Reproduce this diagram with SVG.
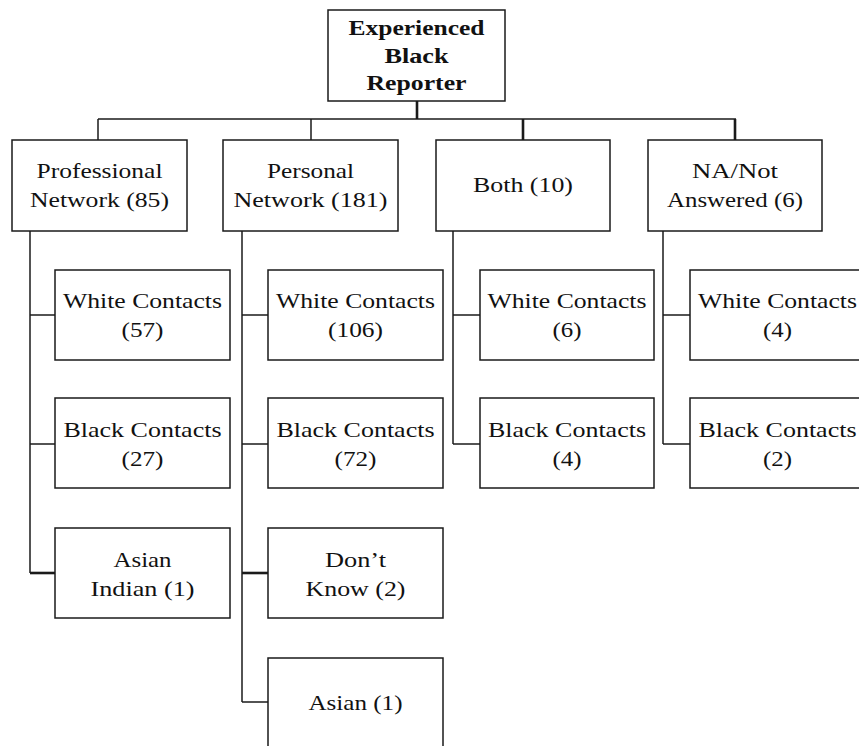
<svg xmlns="http://www.w3.org/2000/svg" width="859" height="746" viewBox="0 0 859 746">
  <style>
    .box { fill: #ffffff; stroke: #1a1a1a; stroke-width: 1.5; }
    .lbl { font-family: "Liberation Serif", "Times New Roman", serif; font-size: 22px; fill: #111111; text-anchor: middle; }
    .bold { font-weight: bold; }
    .wire { fill: none; stroke: #1a1a1a; stroke-width: 1.5; }
    .heavy { stroke-width: 2.6; }
  </style>
  <rect width="859" height="746" fill="#ffffff"/>

  <g id="connectors">
    <!-- top level -->
    <line class="wire heavy" x1="417" y1="101" x2="417" y2="119"/>
    <line class="wire" x1="98" y1="119" x2="736" y2="119"/>
    <line class="wire" x1="98" y1="119" x2="98" y2="140"/>
    <line class="wire" x1="311" y1="119" x2="311" y2="140"/>
    <line class="wire heavy" x1="523" y1="119" x2="523" y2="140"/>
    <line class="wire heavy" x1="735" y1="119" x2="735" y2="140"/>
    <!-- professional network branch -->
    <line class="wire" x1="30" y1="231" x2="30" y2="573"/>
    <line class="wire" x1="30" y1="315" x2="55" y2="315"/>
    <line class="wire" x1="30" y1="444" x2="55" y2="444"/>
    <line class="wire heavy" x1="30" y1="573" x2="55" y2="573"/>
    <!-- personal network branch -->
    <line class="wire" x1="242" y1="231" x2="242" y2="702"/>
    <line class="wire" x1="242" y1="315" x2="268" y2="315"/>
    <line class="wire" x1="242" y1="444" x2="268" y2="444"/>
    <line class="wire heavy" x1="242" y1="573" x2="268" y2="573"/>
    <line class="wire" x1="242" y1="702" x2="268" y2="702"/>
    <!-- both branch -->
    <line class="wire" x1="453" y1="231" x2="453" y2="444"/>
    <line class="wire" x1="453" y1="315" x2="480" y2="315"/>
    <line class="wire" x1="453" y1="444" x2="480" y2="444"/>
    <!-- not answered branch -->
    <line class="wire" x1="663" y1="231" x2="663" y2="444"/>
    <line class="wire" x1="663" y1="315" x2="690" y2="315"/>
    <line class="wire" x1="663" y1="444" x2="690" y2="444"/>
  </g>

  <g id="root">
    <rect class="box" x="328" y="10" width="177" height="91"/>
    <text class="lbl bold" x="416.5" y="35" textLength="136" lengthAdjust="spacingAndGlyphs">Experienced</text>
    <text class="lbl bold" x="416.5" y="63" textLength="64" lengthAdjust="spacingAndGlyphs">Black</text>
    <text class="lbl bold" x="416.5" y="90" textLength="100" lengthAdjust="spacingAndGlyphs">Reporter</text>
  </g>

  <g id="professional">
    <rect class="box" x="12" y="140" width="175" height="91"/>
    <text class="lbl" x="99.5" y="178" textLength="126" lengthAdjust="spacingAndGlyphs">Professional</text>
    <text class="lbl" x="99.5" y="207" textLength="139" lengthAdjust="spacingAndGlyphs">Network (85)</text>
  </g>
  <g id="personal">
    <rect class="box" x="223" y="140" width="175" height="91"/>
    <text class="lbl" x="310.5" y="178" textLength="87" lengthAdjust="spacingAndGlyphs">Personal</text>
    <text class="lbl" x="310.5" y="207" textLength="154" lengthAdjust="spacingAndGlyphs">Network (181)</text>
  </g>
  <g id="both">
    <rect class="box" x="436" y="140" width="174" height="91"/>
    <text class="lbl" x="523" y="192" textLength="100" lengthAdjust="spacingAndGlyphs">Both (10)</text>
  </g>
  <g id="not-answered">
    <rect class="box" x="648" y="140" width="174" height="91"/>
    <text class="lbl" x="735" y="178" textLength="86" lengthAdjust="spacingAndGlyphs">NA/Not</text>
    <text class="lbl" x="735" y="207" textLength="136" lengthAdjust="spacingAndGlyphs">Answered (6)</text>
  </g>

  <!-- professional network children -->
  <g id="prof-white">
    <rect class="box" x="55" y="270" width="175" height="90"/>
    <text class="lbl" x="142.5" y="308" textLength="159" lengthAdjust="spacingAndGlyphs">White Contacts</text>
    <text class="lbl" x="142.5" y="337" textLength="42" lengthAdjust="spacingAndGlyphs">(57)</text>
  </g>
  <g id="prof-black">
    <rect class="box" x="55" y="398" width="175" height="90"/>
    <text class="lbl" x="142.5" y="437" textLength="158" lengthAdjust="spacingAndGlyphs">Black Contacts</text>
    <text class="lbl" x="142.5" y="466" textLength="42" lengthAdjust="spacingAndGlyphs">(27)</text>
  </g>
  <g id="prof-asian-indian">
    <rect class="box" x="55" y="528" width="175" height="90"/>
    <text class="lbl" x="142.5" y="567" textLength="58" lengthAdjust="spacingAndGlyphs">Asian</text>
    <text class="lbl" x="142.5" y="596" textLength="104" lengthAdjust="spacingAndGlyphs">Indian (1)</text>
  </g>

  <!-- personal network children -->
  <g id="pers-white">
    <rect class="box" x="268" y="270" width="175" height="90"/>
    <text class="lbl" x="355.5" y="308" textLength="159" lengthAdjust="spacingAndGlyphs">White Contacts</text>
    <text class="lbl" x="355.5" y="337" textLength="55" lengthAdjust="spacingAndGlyphs">(106)</text>
  </g>
  <g id="pers-black">
    <rect class="box" x="268" y="398" width="175" height="90"/>
    <text class="lbl" x="355.5" y="437" textLength="158" lengthAdjust="spacingAndGlyphs">Black Contacts</text>
    <text class="lbl" x="355.5" y="466" textLength="42" lengthAdjust="spacingAndGlyphs">(72)</text>
  </g>
  <g id="pers-dont-know">
    <rect class="box" x="268" y="528" width="175" height="90"/>
    <text class="lbl" x="355.5" y="567" textLength="61" lengthAdjust="spacingAndGlyphs">Don’t</text>
    <text class="lbl" x="355.5" y="596" textLength="100" lengthAdjust="spacingAndGlyphs">Know (2)</text>
  </g>
  <g id="pers-asian">
    <rect class="box" x="268" y="658" width="175" height="92"/>
    <text class="lbl" x="355.5" y="710" textLength="94" lengthAdjust="spacingAndGlyphs">Asian (1)</text>
  </g>

  <!-- both children -->
  <g id="both-white">
    <rect class="box" x="480" y="270" width="174" height="90"/>
    <text class="lbl" x="567" y="308" textLength="159" lengthAdjust="spacingAndGlyphs">White Contacts</text>
    <text class="lbl" x="567" y="337" textLength="29" lengthAdjust="spacingAndGlyphs">(6)</text>
  </g>
  <g id="both-black">
    <rect class="box" x="480" y="398" width="174" height="90"/>
    <text class="lbl" x="567" y="437" textLength="158" lengthAdjust="spacingAndGlyphs">Black Contacts</text>
    <text class="lbl" x="567" y="466" textLength="29" lengthAdjust="spacingAndGlyphs">(4)</text>
  </g>

  <!-- not answered children -->
  <g id="na-white">
    <rect class="box" x="690" y="270" width="175" height="90"/>
    <text class="lbl" x="777.5" y="308" textLength="159" lengthAdjust="spacingAndGlyphs">White Contacts</text>
    <text class="lbl" x="777.5" y="337" textLength="29" lengthAdjust="spacingAndGlyphs">(4)</text>
  </g>
  <g id="na-black">
    <rect class="box" x="690" y="398" width="175" height="90"/>
    <text class="lbl" x="777.5" y="437" textLength="158" lengthAdjust="spacingAndGlyphs">Black Contacts</text>
    <text class="lbl" x="777.5" y="466" textLength="29" lengthAdjust="spacingAndGlyphs">(2)</text>
  </g>
</svg>
